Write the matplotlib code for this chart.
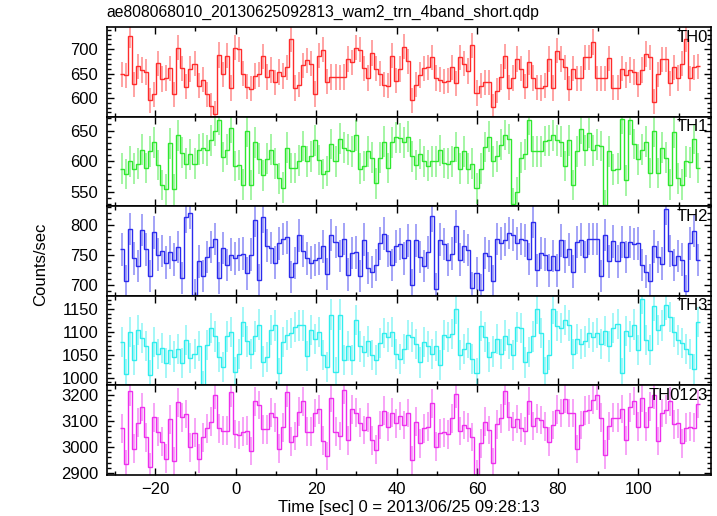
import numpy as np
import matplotlib
matplotlib.use("Agg")
import matplotlib.pyplot as plt
from matplotlib.ticker import MultipleLocator

plt.rcParams['font.family'] = ['Liberation Sans', 'DejaVu Sans']

# light curve, 1 s bins starting at t = -28.7 s
tStart = -28.7
binSize = 1.0

th0 = [648, 646, 728, 628, 665, 657, 653, 595, 607, 671, 639, 641, 661, 607, 703, 661, 623, 659, 670, 625,
       637, 607, 583, 567, 688, 648, 687, 620, 703, 700, 650, 623, 619, 645, 648, 685, 643, 657, 632, 653,
       645, 663, 720, 620, 627, 667, 677, 670, 608, 687, 699, 633, 643, 643, 642, 643, 680, 673, 703, 699,
       661, 641, 692, 660, 650, 627, 625, 687, 635, 659, 705, 675,
       595, 627, 647, 661, 663, 683, 641, 637, 633, 635, 663, 630, 683, 670, 655, 708, 610, 625, 632, 632,
       581, 615, 643, 685, 621, 641, 680, 660, 623, 673, 641, 621, 620, 625, 680, 620, 697, 680, 663, 619,
       660, 640, 640, 683, 683, 715, 640, 640, 640, 681, 621, 621, 660, 647, 657, 653, 628, 657, 690, 683,
       592, 648, 679, 679, 630, 663, 641, 670, 720, 640, 663, 665]
th1 = [588, 579, 600, 588, 596, 619, 589, 616, 631, 594, 561, 554, 629, 554, 642, 614, 596, 611, 596, 619,
       621, 618, 634, 650, 667, 607, 619, 654, 592, 594, 562, 649, 561, 631, 604, 577, 604, 619, 596, 572,
       557, 622, 589, 589, 601, 625, 600, 608, 634, 602, 579, 584, 628, 600, 637, 622, 619, 616, 642, 588,
       592, 616, 606, 564, 606, 632, 589, 631, 639, 638, 631, 640,
       608, 594, 612, 600, 593, 600, 600, 618, 597, 596, 600, 623, 588, 616, 588, 596, 556, 588, 623, 640,
       600, 608, 627, 643, 636, 531, 550, 606, 611, 668, 616, 616, 616, 633, 634, 642, 634, 632, 592, 634,
       561, 616, 653, 618, 646, 618, 627, 625, 528, 616, 586, 588, 669, 569, 667, 628, 603, 619, 632, 581,
       649, 581, 622, 606, 562, 647, 572, 562, 600, 598, 636, 589]
th2 = [759, 706, 793, 744, 731, 791, 759, 715, 787, 750, 756, 737, 754, 742, 763, 711, 813, 819, 683, 739,
       715, 746, 763, 776, 711, 761, 733, 750, 744, 750, 752, 719, 750, 807, 708, 813, 765, 761, 737, 769,
       776, 779, 713, 736, 782, 756, 744, 737, 741, 744, 764, 718, 783, 771, 748, 776, 717, 753, 754, 715,
       775, 728, 721, 733, 769, 785, 756, 733, 764, 768, 744, 774,
       700, 774, 746, 731, 754, 814, 693, 775, 768, 742, 752, 797, 742, 764, 758, 694, 719, 691, 753, 748,
       706, 776, 769, 775, 786, 783, 769, 776, 774, 743, 804, 724, 753, 750, 724, 748, 724, 774, 747, 759,
       722, 771, 775, 746, 776, 776, 776, 715, 783, 739, 772, 739, 771, 746, 771, 768, 769, 733, 722, 707,
       764, 746, 735, 826, 756, 733, 748, 742, 689, 769, 789, 741]
th3 = [1077, 1008, 1099, 1038, 1104, 1087, 1070, 1006, 1077, 1052, 1065, 1032, 1060, 1046, 1063, 1032,
       1083, 1043, 1052, 1070, 982, 1072, 1109, 1090, 1045, 1023, 1090, 1099, 1013, 1052, 1121, 1079,
       1052, 1090, 1116, 1035, 1045, 1104, 1114, 1010, 1077, 1094, 1098, 1111, 1114, 1114, 1048, 1104,
       1085, 1099, 1050, 1024, 1138, 1013, 1138, 1039, 1070, 1039, 1126, 1068, 1057, 1079, 1050, 1038,
       1076, 1098, 1089, 1099, 1052, 1040, 1063, 1094,
       1089, 1074, 1033, 1077, 1068, 1052, 1070, 1028, 1094, 1089, 1096, 1151, 1050, 1063, 1076, 1040,
       1010, 1112, 1089, 1045, 1057, 1085, 1052, 1092, 1074, 1050, 1111, 1109, 1033, 1055, 1090, 1151,
       1098, 1011, 1050, 1151, 1112, 1109, 1126, 1114, 1052, 1085, 1074, 1079, 1098, 1089, 1098, 1074,
       1101, 1068, 1109, 1117, 1010, 1101, 1090, 1116, 1060, 1173, 1083, 1060, 1157, 1105, 1114, 1158,
       1133, 1099, 1082, 1076, 1063, 1052, 1018, 1121]
th0123 = [3072, 2934, 3214, 2994, 3094, 3153, 3037, 2923, 3114, 3059, 3020, 2955, 3106, 2946, 3171, 3114,
          3127, 2998, 3055, 2955, 3037, 3072, 3097, 3201, 3072, 3063, 3063, 3210, 3050, 3046, 3059, 3063,
          2985, 3175, 3162, 3068, 3068, 3132, 3114, 2994, 3075, 3210, 3020, 3042, 3136, 3175, 3059, 3059,
          3130, 3145, 3024, 2965, 3188, 3059, 3042, 3220, 3026, 3145, 3132, 3094, 3065, 3114, 3026, 2990,
          3085, 3140, 3078, 3132, 3091, 3119, 3085,
          3130, 2949, 3097, 3014, 3072, 3078, 3168, 3001, 3052, 3056, 3048, 3110, 3203, 3061, 3085, 3074,
          3039, 2894, 3014, 3097, 3065, 2940, 3087, 3110, 3216, 3117, 3078, 3108, 3074, 3061, 3177, 3081,
          3110, 3104, 3078, 3020, 3085, 3143, 3130, 3185, 3130, 3130, 2992, 3085, 3139, 3143, 3181, 3198,
          3113, 2971, 3081, 3113, 3113, 3146, 3026, 3152, 3177, 3078, 3188, 3078, 3155, 3201, 3023, 3130,
          3143, 3175, 3087, 3091, 3014, 3074, 3078, 3074, 3165]

bands = ["TH0", "TH1", "TH2", "TH3", "TH0123"]
series = [th0, th1, th2, th3, th0123]
errors = [26, 25, 27, 33, 55]  # typical 1-sigma bar half length per band
colors = ["#ff2b2b", "#2ee82e", "#2b2bee", "#2eeeee", "#ee2eee"]
yLims = [(561, 745), (526.5, 672.5), (681.7, 830.5), (983, 1179), (2893, 3237)]
yMajor = [50, 50, 50, 50, 100]
yMinor = [10, 10, 10, 10, 20]

fig = plt.figure(figsize=(7.17, 5.16), dpi=100)
left, width = 0.1488, 0.8428
top, panelH = 0.9471, 0.17345

for i, (band, vals) in enumerate(zip(bands, series)):
    ax = fig.add_axes([left, top - (i + 1) * panelH, width, panelH])
    vals = np.array(vals, dtype=float)
    edges = tStart + binSize * np.arange(len(vals) + 1)
    centers = 0.5 * (edges[:-1] + edges[1:])

    ax.errorbar(centers, vals, yerr=errors[i], fmt='none', ecolor=colors[i], elinewidth=1.1, alpha=0.55)
    ax.stairs(vals, edges, baseline=None, color=colors[i], lw=1.0)

    ax.set_xlim(-32, 118)
    ax.set_ylim(*yLims[i])
    ax.xaxis.set_major_locator(MultipleLocator(20))
    ax.xaxis.set_minor_locator(MultipleLocator(10))
    ax.yaxis.set_major_locator(MultipleLocator(yMajor[i]))
    ax.yaxis.set_minor_locator(MultipleLocator(yMinor[i]))
    ax.tick_params(which='both', direction='in', top=True, right=True, labelsize=12, width=1.0)
    ax.tick_params(which='major', length=5)
    ax.tick_params(which='minor', length=3)
    ax.tick_params(axis='y', pad=6)
    ax.tick_params(axis='x', pad=5)
    for sp in ax.spines.values():
        sp.set_linewidth(1.2)
    if i < len(bands) - 1:
        ax.tick_params(labelbottom=False)

    ax.text(0.995, 0.97, band, transform=ax.transAxes, ha='right', va='top', fontsize=12)

fig.text(left, 0.961, "ae808068010_20130625092813_wam2_trn_4band_short.qdp", ha='left', va='bottom', fontsize=11.3)
fig.text(0.056, 0.487, "Counts/sec", rotation=90, ha='center', va='center', fontsize=12)
fig.text(left + width / 2, 0.017, "Time [sec] 0 = 2013/06/25 09:28:13", ha='center', va='center', fontsize=12)

plt.savefig("out.png", dpi=100)
